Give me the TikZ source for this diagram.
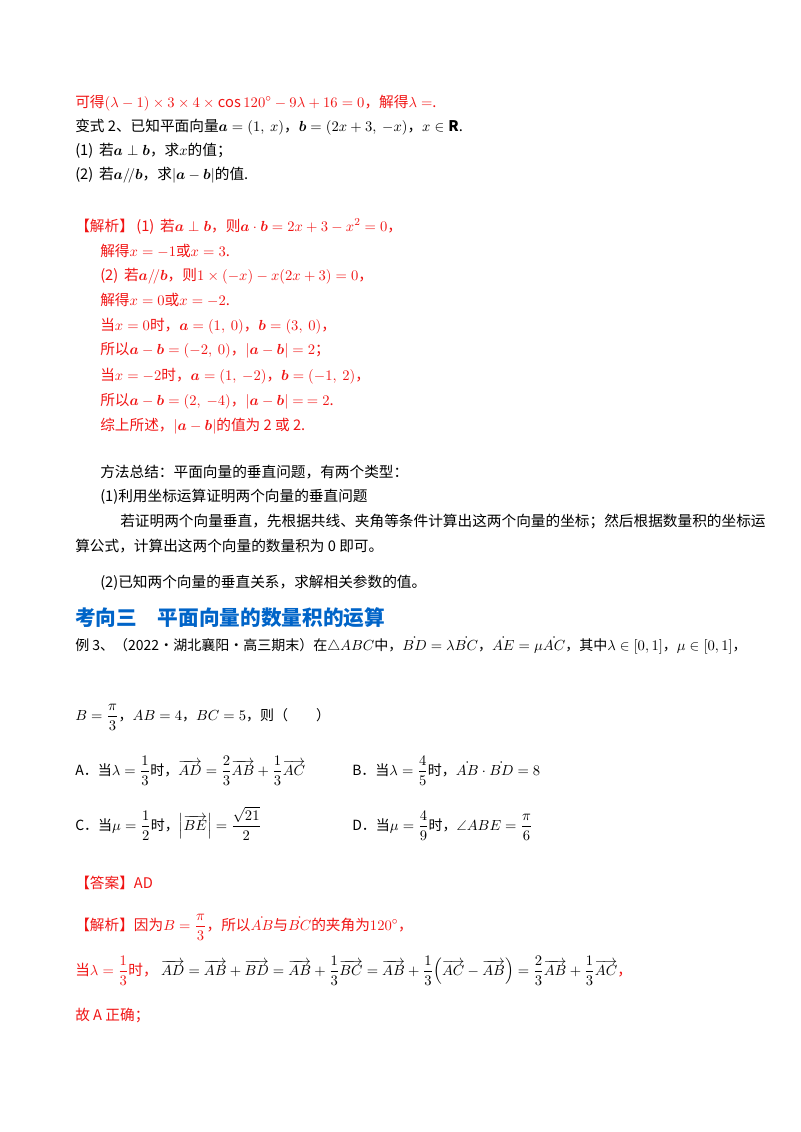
\documentclass[tikz,border=0pt]{standalone}
\usepackage{amsmath,amssymb,bm}
\usepackage{fontspec}
\setmainfont{Noto Sans CJK SC}
\definecolor{rd}{RGB}{240,20,20}
\definecolor{bl}{RGB}{0,100,200}
\begin{document}
\begin{tikzpicture}[x=0.75pt,y=-0.75pt,
  t/.style={anchor=base west,inner sep=0pt,font=\fontsize{11}{13}\selectfont},
  r/.style={t,text=rd}, s/.style={t,font=\fontsize{10.5}{12}\selectfont}]
\useasboundingbox (0,0) rectangle (800,1132);
\node[r] (l1) at (75,107) {可得$(\lambda-1)\times3\times4\times\cos120^\circ-9\lambda+16=0$，解得$\lambda=$.};
\node[t] (l2) at (75,131) {变式 2、已知平面向量$\bm a=(1,\ x)$，$\bm b=(2x+3,\ -x)$，$x\in\mathbf R$.};
\node[t] (l3) at (75,155) {(1)\, 若$\bm a\perp\bm b$，求$x$的值；};
\node[t] (l4) at (75,179) {(2)\, 若$\bm a/\!/\bm b$，求$|\bm a-\bm b|$的值.};
\node[r] (j0) at (75,231) {【解析】\,(1)\, 若$\bm a\perp\bm b$，则$\bm a\cdot\bm b=2x+3-x^2=0$，};
\node[r] (j1) at (100,256) {解得$x=-1$或$x=3$.};
\node[r] (j2) at (100,280) {(2)\, 若$\bm a/\!/\bm b$，则$1\times(-x)-x(2x+3)=0$，};
\node[r] (j3) at (100,305) {解得$x=0$或$x=-2$.};
\node[r] (j4) at (100,330) {当$x=0$时，$\bm a=(1,\ 0)$，$\bm b=(3,\ 0)$，};
\node[r] (j5) at (100,354) {所以$\bm a-\bm b=(-2,\ 0)$，$|\bm a-\bm b|=2$；};
\node[r] (j6) at (100,380) {当$x=-2$时，$\bm a=(1,\ -2)$，$\bm b=(-1,\ 2)$，};
\node[r] (j7) at (100,405) {所以$\bm a-\bm b=(2,\ -4)$，$|\bm a-\bm b|=\ =2$.};
\node[r] (j8) at (100,430) {综上所述，$|\bm a-\bm b|$的值为 2 或 2.};
\node[t] (m1) at (100,477) {方法总结：平面向量的垂直问题，有两个类型：};
\node[t] (m2) at (100,501) {(1)利用坐标运算证明两个向量的垂直问题};
\node[t] (m3) at (120,526) {若证明两个向量垂直，先根据共线、夹角等条件计算出这两个向量的坐标；然后根据数量积的坐标运};
\node[t] (m4) at (75,551) {算公式，计算出这两个向量的数量积为 0 即可。};
\node[t] (m5) at (100,587) {(2)已知两个向量的垂直关系，求解相关参数的值。};
\node[t,font=\fontsize{15.5}{18}\bfseries\selectfont,text=bl] (h) at (75,625) {考向三\quad 平面向量的数量积的运算};
\node[s] (e1) at (75,650) {例 3、（2022·湖北襄阳·高三期末）在$\triangle ABC$中，$\dot{BD}=\lambda\dot{BC}$，$\dot{AE}=\mu\dot{AC}$，其中$\lambda\in[0,1]$，$\mu\in[0,1]$，};
\node[s] (e2) at (75,720) {$B=\dfrac{\pi}{3}$，$AB=4$，$BC=5$，则（\qquad ）};
\node[s] (oa) at (75,775) {A．当$\lambda=\dfrac13$时，$\overrightarrow{AD}=\dfrac23\overrightarrow{AB}+\dfrac13\overrightarrow{AC}$};
\node[s] (ob) at (352,775) {B．当$\lambda=\dfrac45$时，$\dot{AB}\cdot\dot{BD}=8$};
\node[s] (oc) at (75,830) {C．当$\mu=\dfrac12$时，$\left|\overrightarrow{BE}\right|=\dfrac{\sqrt{21}}{2}$};
\node[s] (od) at (352,830) {D．当$\mu=\dfrac49$时，$\angle ABE=\dfrac{\pi}{6}$};
\node[r] (an) at (75,888) {【答案】AD};
\node[r] (k1) at (75,930) {【解析】因为$B=\dfrac{\pi}{3}$，所以$\dot{AB}$与$\dot{BC}$的夹角为$120^\circ$，};
\node[r] (k2) at (75,975) {当$\lambda=\dfrac13$时，\ \textcolor{black}{$\overrightarrow{AD}=\overrightarrow{AB}+\overrightarrow{BD}=\overrightarrow{AB}+\dfrac13\overrightarrow{BC}=\overrightarrow{AB}+\dfrac13\Bigl(\overrightarrow{AC}-\overrightarrow{AB}\Bigr)=\dfrac23\overrightarrow{AB}+\dfrac13\overrightarrow{AC}$}，};
\node[r] (k3) at (75,1020) {故 A 正确；};
\end{tikzpicture}
\end{document}
